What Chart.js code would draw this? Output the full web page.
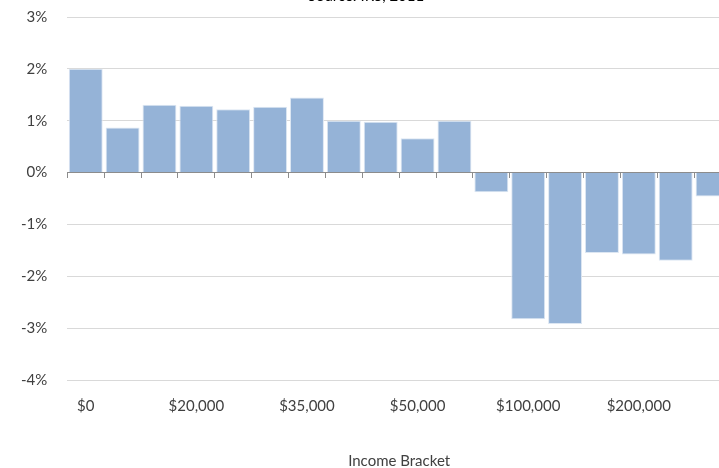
<!DOCTYPE html>
<html>
<head>
<meta charset="utf-8">
<script src="https://cdn.jsdelivr.net/npm/chart.js@4"></script>
<style>
  html, body { margin: 0; padding: 0; background: #fff; overflow: hidden; }
  #wrap { position: absolute; left: 0; top: -15px; width: 810px; height: 483px; }
</style>
</head>
<body>
<div id="wrap"><canvas id="chart"></canvas></div>
<script>
const brackets = [
  "$0", "$10,000", "$15,000", "$20,000", "$25,000", "$30,000",
  "$35,000", "$40,000", "$45,000", "$50,000", "$60,000", "$75,000",
  "$100,000", "$125,000", "$150,000", "$200,000", "$250,000", "$500,000"
];
const change = [
  2.0, 0.87, 1.31, 1.29, 1.22, 1.27,
  1.45, 1.0, 0.98, 0.66, 1.0, -0.38,
  -2.83, -2.92, -1.55, -1.58, -1.70, -0.46
];
const yTicks = [-4, -3, -2, -1, 0, 1, 2, 3];

const font = "Lato";
const graphic = document.querySelector("#chart");
new Chart(graphic, {
  type: "bar",
  data: {
    labels: brackets,
    datasets: [
      {
        label: "Change",
        data: change,
        backgroundColor: "#95b3d7",
        borderColor: "#dce6f2",
        borderWidth: 1,
        categoryPercentage: 1,
        barPercentage: 0.92,
      },
    ],
  },
  options: {
    animation: false,
    responsive: true,
    maintainAspectRatio: false,
    layout: { padding: { left: 1, right: 79, top: 0, bottom: -2 } },
    plugins: {
      legend: { display: false },
      tooltip: { enabled: false },
      title: {
        display: true,
        text: "Source: IRS, 2011",
        color: "#000",
        font: { family: font, size: 15, weight: "normal" },
        padding: { top: 2, bottom: 12 },
      },
    },
    scales: {
      x: {
        grid: { display: false },
        border: { display: false },
        ticks: {
          autoSkip: false,
          maxRotation: 0,
          color: "#404040",
          padding: 9,
          font: { family: font, size: 15 },
          callback: (v, i) => (i % 3 === 0 ? brackets[i] : ""),
        },
        title: {
          display: true,
          text: "Income Bracket",
          color: "#404040",
          font: { family: font, size: 15 },
          padding: { top: 28, bottom: 0 },
        },
      },
      x2: {
        type: "category",
        labels: brackets,
        position: { y: 0 },
        offset: true,
        grid: {
          offset: true,
          drawOnChartArea: false,
          drawTicks: true,
          tickLength: 5,
          color: "#8c8c8c",
        },
        border: { display: true, color: "#8c8c8c", width: 1 },
        ticks: { display: false },
      },
      y: {
        min: -4,
        max: 3,
        afterBuildTicks: (scale) => {
          scale.ticks = yTicks.map((v) => ({ value: v }));
        },
        grid: { color: "#d9d9d9", drawTicks: false },
        border: { display: false },
        ticks: {
          color: "#404040",
          padding: 20,
          font: { family: font, size: 15 },
          callback: (v) => v + "%",
        },
      },
    },
  },
});
</script>
</body>
</html>
